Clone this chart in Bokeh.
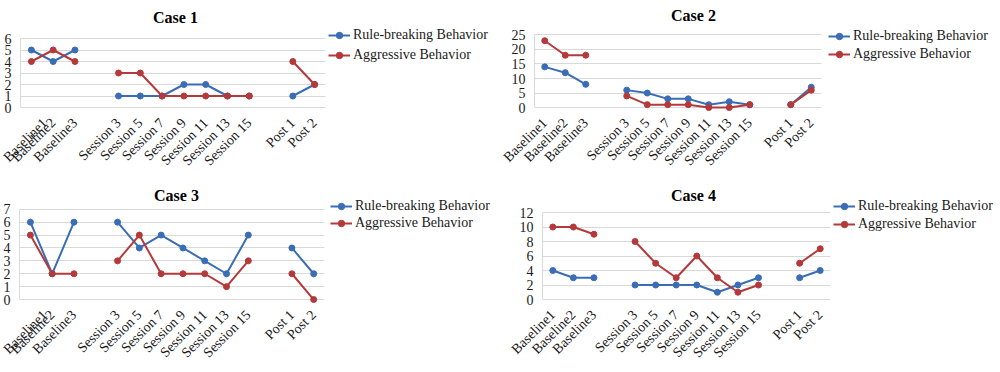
import math
from bokeh.plotting import figure
from bokeh.layouts import column, row
from bokeh.models import (Range1d, FixedTicker, Legend, LegendItem, Grid,
                          ColumnDataSource, Label)
from bokeh.embed import file_html
from bokeh.resources import INLINE

nan = float("nan")

categories = ["Baseline1", "Baseline2", "Baseline3", "",
              "Session 3", "Session 5", "Session 7", "Session 9",
              "Session 11", "Session 13", "Session 15", "",
              "Post 1", "Post 2"]

series_names = ["Rule-breaking Behavior", "Aggressive Behavior"]

case1_rule = [5, 4, 5, nan, 1, 1, 1, 2, 2, 1, 1, nan, 1, 2]
case1_aggr = [4, 5, 4, nan, 3, 3, 1, 1, 1, 1, 1, nan, 4, 2]

case2_rule = [14, 12, 8, nan, 6, 5, 3, 3, 1, 2, 1, nan, 1, 7]
case2_aggr = [23, 18, 18, nan, 4, 1, 1, 1, 0, 0, 1, nan, 1, 6]

case3_rule = [6, 2, 6, nan, 6, 4, 5, 4, 3, 2, 5, nan, 4, 2]
case3_aggr = [5, 2, 2, nan, 3, 5, 2, 2, 2, 1, 3, nan, 2, 0]

case4_rule = [4, 3, 3, nan, 2, 2, 2, 2, 1, 2, 3, nan, 3, 4]
case4_aggr = [10, 10, 9, nan, 8, 5, 3, 6, 3, 1, 2, nan, 5, 7]

y_ticks1 = [0, 1, 2, 3, 4, 5, 6]
y_ticks2 = [0, 5, 10, 15, 20, 25]
y_ticks3 = [0, 1, 2, 3, 4, 5, 6, 7]
y_ticks4 = [0, 2, 4, 6, 8, 10, 12]

BLUE = "#3A6DB5"
RED = "#B5393A"
GRID = "#D9D9D9"
FONT = "Liberation Serif"
FRAME_TOP = 1
FRAME_RIGHT_GAP = 1

xs = list(range(len(categories)))
tick_idx = [i for i, c in enumerate(categories) if c]
tick_labels = {i: categories[i] for i in tick_idx}


def panel(title, rule, aggr, ticks, W, H, fl, fr, y0, ytop, fb,
          leg_left, leg_c1, leg_gap, tx, ty):
    n = len(categories)
    cw = (fr - fl) / n
    xend = -0.5 + (W - FRAME_RIGHT_GAP - fl) / cw
    ymax = ticks[-1]
    scale = (y0 - ytop) / ymax
    ystart = -(fb - y0) / scale
    yend = ymax + (ytop - FRAME_TOP) / scale
    p = figure(width=W, height=H,
               x_range=Range1d(-0.5, xend),
               y_range=Range1d(ystart, yend),
               output_backend="svg", toolbar_location=None,
               min_border_left=fl, min_border_right=FRAME_RIGHT_GAP,
               min_border_top=FRAME_TOP, min_border_bottom=H - fb)
    p.outline_line_color = None
    p.background_fill_color = "white"
    p.border_fill_color = "white"

    p.add_layout(Label(x=tx - fl, y=fb - ty, x_units="screen", y_units="screen",
                       text=title, text_align="center", text_baseline="middle",
                       text_font=FONT, text_font_size="16px",
                       text_font_style="bold", text_color="#000000"))

    p.xgrid.grid_line_color = None
    if "cross_bounds" in Grid.properties():
        p.ygrid.grid_line_color = GRID
        p.ygrid.cross_bounds = (-0.5, n - 0.5)
    else:
        p.ygrid.grid_line_color = None
        p.segment(x0=[-0.5] * len(ticks), x1=[n - 0.5] * len(ticks),
                  y0=ticks, y1=ticks, line_color=GRID, line_width=1,
                  level="underlay")
    p.ygrid.grid_line_width = 1

    p.yaxis.ticker = FixedTicker(ticks=ticks)
    p.yaxis.bounds = (0, ymax)
    p.yaxis.axis_line_color = GRID
    p.yaxis.major_tick_line_color = None
    p.yaxis.minor_tick_line_color = None
    p.yaxis.major_label_standoff = 3
    p.yaxis.major_label_text_font = FONT
    p.yaxis.major_label_text_font_size = "14px"
    p.yaxis.major_label_text_color = "#1a1a1a"

    p.xaxis.ticker = FixedTicker(ticks=tick_idx)
    p.xaxis.major_label_overrides = tick_labels
    p.xaxis.axis_line_color = None
    p.xaxis.major_tick_line_color = None
    p.xaxis.minor_tick_line_color = None
    p.xaxis.major_label_orientation = math.pi / 4
    p.xaxis.major_label_standoff = 3
    p.xaxis.major_label_text_font = FONT
    p.xaxis.major_label_text_font_size = "14px"
    p.xaxis.major_label_text_color = "#1a1a1a"

    items = []
    for name, vals, col in [(series_names[0], rule, BLUE), (series_names[1], aggr, RED)]:
        src = ColumnDataSource(dict(x=xs, y=vals))
        l = p.line("x", "y", source=src, line_color=col, line_width=2)
        s = p.scatter("x", "y", source=src, marker="circle", size=6,
                      fill_color=col, line_color=col)
        items.append(LegendItem(label=name, renderers=[l, s]))

    lh = 16
    sp = leg_gap - lh
    leg_h = 2 * lh + sp
    leg_top = leg_c1 - lh / 2
    legend = Legend(items=items,
                    location=(leg_left - fl, fb - leg_top - leg_h),
                    border_line_color=None, background_fill_alpha=0,
                    padding=0, margin=0, spacing=sp,
                    glyph_width=22, glyph_height=lh, label_height=lh,
                    label_standoff=3,
                    label_text_font=FONT, label_text_font_size="14px",
                    label_text_color="#1a1a1a")
    p.add_layout(legend)
    return p


p1 = panel("Case 1", case1_rule, case1_aggr, y_ticks1, 500, 185,
           20, 325, 107, 38, 111, 328, 35, 20, 175, 17)
p2 = panel("Case 2", case2_rule, case2_aggr, y_ticks2, 500, 185,
           34, 321, 109, 35, 113, 828 - 500, 38, 18, 193, 17)
p3 = panel("Case 3", case3_rule, case3_aggr, y_ticks3, 500, 187,
           16, 323, 115, 24, 119, 327, 22, 17, 173, 11)
p4 = panel("Case 4", case4_rule, case4_aggr, y_ticks4, 500, 187,
           42, 330, 114, 27, 118, 333, 21, 18, 193, 10)

layout = column(row(p1, p2), row(p3, p4))
open("out.html", "w").write(file_html(layout, INLINE))
